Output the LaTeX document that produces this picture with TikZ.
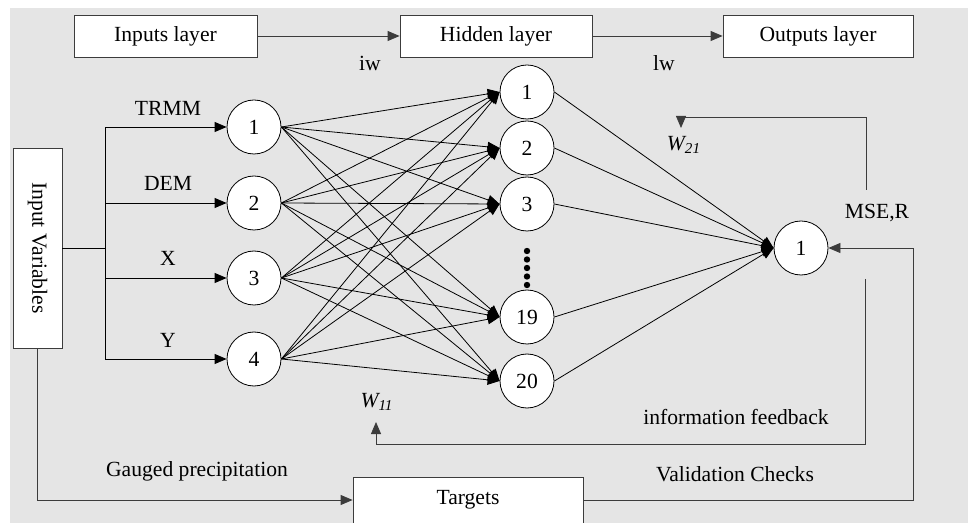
\documentclass[tikz,border=0pt]{standalone}
\usepackage{fontspec}
\setmainfont{Liberation Serif}
\usepackage{xcolor}
\usepackage{tikz}
\usetikzlibrary{arrows.meta}
\definecolor{bggray}{HTML}{E5E5E5}
\definecolor{linegray}{HTML}{3C3C3C}

\begin{document}
\begin{tikzpicture}[x=0.5pt, y=-0.5pt, font=\fontsize{10.8}{13}\selectfont,
  >={Triangle[length=6pt, width=5pt]}]
\tikzstyle{neuron}=[draw, circle, fill=white, minimum size=27pt, inner sep=0pt]
\tikzstyle{layerbox}=[draw=linegray, fill=white, minimum height=21pt, inner sep=0pt]
\tikzstyle{wire}=[draw=linegray, ->]
\useasboundingbox (0,0) rectangle (968,523);
\fill[bggray] (10,8) rectangle (968,523);

% layer boxes
\node[layerbox, minimum width=91.5pt] (inl) at (165.5,36) {Inputs layer};
\node[layerbox, minimum width=96pt] (hidl) at (496,36) {Hidden layer};
\node[layerbox, minimum width=95pt] (outl) at (818,36) {Outputs layer};
\node (iw) at (370,63) {iw};
\node (lw) at (664,63) {lw};
\draw[wire] (inl) -- (hidl);
\draw[wire] (hidl) -- (outl);

% input variables
\node[layerbox, minimum width=100pt, minimum height=24.5pt, rotate=-90] (iv) at (37.5,248) {Input Variables};
\coordinate (bus) at (105,248);

% neurons
\node[neuron] (i1) at (254,127) {1};
\node[neuron] (i2) at (254,203) {2};
\node[neuron] (i3) at (254,278) {3};
\node[neuron] (i4) at (254,359) {4};

\node[neuron] (h1) at (527,92) {1};
\node[neuron] (h2) at (527,148) {2};
\node[neuron] (h3) at (527,204) {3};
\node[neuron] (h19) at (527,317) {19};
\node[neuron] (h20) at (527,381) {20};

\node[neuron] (o) at (801,248) {1};

\foreach \y in {251,259.5,268,276.5,285}
  \fill (527,\y) circle (1.6pt);

\node (trmm) at (168,108) {TRMM};
\node (dem) at (168,183) {DEM};
\node (xv) at (168,258) {X};
\node (yv) at (168,340) {Y};

\draw (iv.north) -- (bus);
\draw[->] (bus) |- (i1);
\draw[->] (bus) |- (i2);
\draw[->] (bus) |- (i3);
\draw[->] (bus) |- (i4);

\path[->]
(i1.east) edge (h1.west)
    edge (h2.west)
    edge (h3.west)
    edge (h19.west)
    edge (h20.west)
(i2.east) edge (h1.west)
    edge (h2.west)
    edge (h3.west)
    edge (h19.west)
    edge (h20.west)
(i3.east) edge (h1.west)
    edge (h2.west)
    edge (h3.west)
    edge (h19.west)
    edge (h20.west)
(i4.east) edge (h1.west)
    edge (h2.west)
    edge (h3.west)
    edge (h19.west)
    edge (h20.west);

\path[->]
(h1.east) edge (o.west)
(h2.east) edge (o.west)
(h3.east) edge (o.west)
(h19.east) edge (o.west)
(h20.east) edge (o.west);

% feedback
\node (mse) at (877,213) {MSE,R};
\node (w21) at (684,145) {\textit{W\textsubscript{21}}};
\node (w11) at (377,402) {\textit{W\textsubscript{11}}};
\node (info) at (736,417) {information feedback};
\node (valid) at (735,474) {Validation Checks};
\node (gauge) at (197,471) {Gauged precipitation};

\coordinate (fbA) at (866,190);
\coordinate (fbB) at (681,128);
\coordinate (fbC) at (865,279);
\coordinate (fbD) at (376,422);
\draw[wire] (fbA) -- ++(0,-73) -| (fbB);
\draw[wire] (fbC) -- ++(0,165) -| (fbD);

\node[layerbox, minimum width=115pt, minimum height=23pt] (tg) at (468,500) {Targets};
\coordinate (vc) at (913,500);
\draw[wire] (iv.east) |- (tg.west);
\draw[wire] (tg.east) -- (vc) |- (o.east);

\end{tikzpicture}
\end{document}
